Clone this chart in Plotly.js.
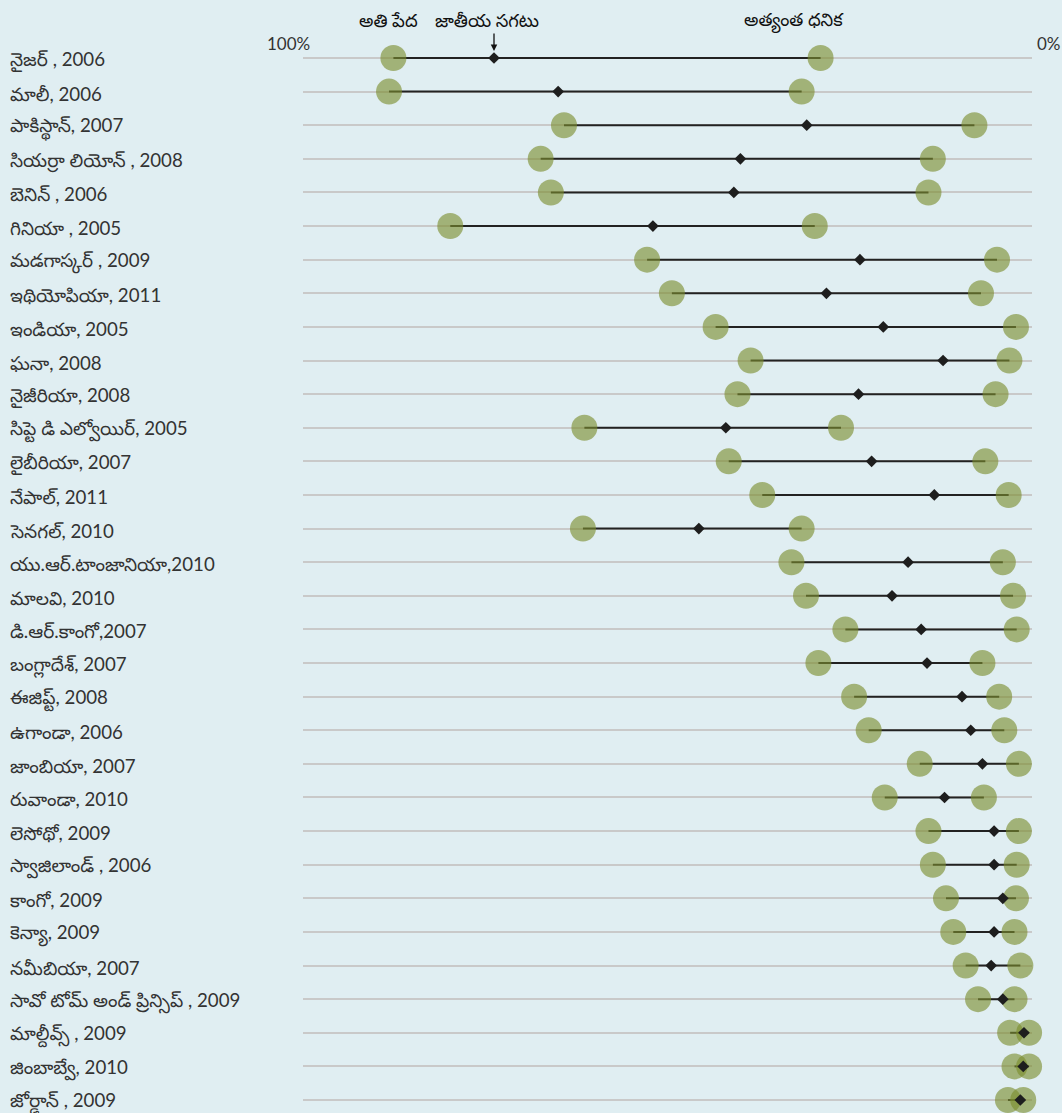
<!DOCTYPE html>
<html>
<head>
<meta charset="utf-8">
<script src="https://cdn.plot.ly/plotly-3.0.1.min.js"></script>
<style>
  html, body { margin: 0; padding: 0; background: #e0eef2; }
  #chart { width: 1062px; height: 1113px; }
</style>
</head>
<body>
<div id="chart"></div>
<script>
const countries = [
  "నైజర్ , 2006", "మాలీ, 2006", "పాకిస్థాన్, 2007", "సియర్రా లియోన్ , 2008",
  "బెనిన్ , 2006", "గినియా , 2005", "మడగాస్కర్ , 2009", "ఇథియోపియా, 2011",
  "ఇండియా, 2005", "ఘనా, 2008", "నైజీరియా, 2008", "సిప్టె డి ఎల్వోయిర్, 2005",
  "లైబీరియా, 2007", "నేపాల్, 2011", "సెనగల్, 2010", "యు.ఆర్.టాంజానియా,2010",
  "మాలవి, 2010", "డి.ఆర్.కాంగో,2007", "బంగ్లాదేశ్, 2007", "ఈజిప్ట్, 2008",
  "ఉగాండా, 2006", "జాంబియా, 2007", "రువాండా, 2010", "లెసోథో, 2009",
  "స్వాజిలాండ్ , 2006", "కాంగో, 2009", "కెన్యా, 2009", "నమీబియా, 2007",
  "సావో టోమ్ అండ్ ప్రిన్సిప్ , 2009", "మాల్దీవ్స్ , 2009", "జింబాబ్వే, 2010", "జోర్డాన్ , 2009"
];
const poorest = [87.6, 88.2, 64.2, 67.4, 66.0, 79.8, 52.8, 49.4, 43.4, 38.6, 40.4, 61.4,
  41.6, 37.0, 61.6, 33.0, 31.0, 25.6, 29.3, 24.4, 22.4, 15.4, 20.2, 14.2,
  13.6, 11.8, 10.8, 9.1, 7.4, 3.0, 2.4, 3.3];
const national = [73.8, 65.0, 30.9, 40.0, 40.9, 52.0, 23.6, 28.2, 20.4, 12.2, 23.8, 42.0,
  22.0, 13.4, 45.7, 17.0, 19.2, 15.2, 14.4, 9.6, 8.4, 6.8, 12.0, 5.2,
  5.2, 4.0, 5.2, 5.6, 4.0, 1.1, 1.2, 1.6];
const richest = [29.0, 31.6, 7.9, 13.6, 14.2, 29.8, 4.8, 7.0, 2.2, 3.1, 5.0, 26.2,
  6.4, 3.2, 31.6, 4.0, 2.6, 2.1, 6.8, 4.5, 3.8, 1.8, 6.6, 1.8,
  2.1, 2.2, 2.4, 1.6, 2.4, 0.4, 0.4, 1.2];
const headerPoorest = "అతి పేద";
const headerNational = "జాతీయ సగటు";
const headerRichest = "అత్యంత ధనిక";
const axisLabels = ["100%", "0%"];

const rows = countries.map((_, i) => i);
const fontFam = "Lato, 'Noto Sans', 'Noto Sans Telugu', sans-serif";

const lineX = [], lineY = [];
rows.forEach(i => { lineX.push(poorest[i], richest[i], null); lineY.push(i, i, null); });

const traces = [
  { type: 'scatter', mode: 'lines', x: lineX, y: lineY, line: { color: '#222222', width: 2 },
    hoverinfo: 'skip', showlegend: false, cliponaxis: false },
  { type: 'scatter', mode: 'markers', x: poorest, y: rows,
    marker: { size: 26, color: 'rgba(122,141,45,0.62)', line: { width: 0 } },
    showlegend: false, cliponaxis: false },
  { type: 'scatter', mode: 'markers', x: richest, y: rows,
    marker: { size: 26, color: 'rgba(122,141,45,0.62)', line: { width: 0 } },
    showlegend: false, cliponaxis: false },
  { type: 'scatter', mode: 'markers', x: national, y: rows,
    marker: { symbol: 'diamond', size: 9, color: '#1e1e1e', line: { width: 0 } },
    showlegend: false, cliponaxis: false }
];

const annotations = countries.map((c, i) => ({
  xref: 'paper', yref: 'y', x: -0.4047, y: i, xanchor: 'left', yanchor: 'middle', yshift: -2,
  text: c, showarrow: false, font: { family: fontFam, size: 18.7, color: '#333333' }
}));
annotations.push(
  { xref: 'x', yref: 'paper', x: 100, y: 0.9963, xshift: -15, text: axisLabels[0], showarrow: false,
    xanchor: 'center', yanchor: 'middle', font: { family: fontFam, size: 17, color: '#333333' } },
  { xref: 'x', yref: 'paper', x: 0, y: 0.9963, xshift: 17, text: axisLabels[1], showarrow: false,
    xanchor: 'center', yanchor: 'middle', font: { family: fontFam, size: 17, color: '#333333' } },
  { xref: 'x', yref: 'paper', x: poorest[0], y: 1.0186, xshift: -5, text: headerPoorest, showarrow: false,
    xanchor: 'center', yanchor: 'middle', font: { family: fontFam, size: 18, color: '#111111' } },
  { xref: 'x', yref: 'paper', x: national[0], y: 1.0186, xshift: -7, text: headerNational, showarrow: false,
    xanchor: 'center', yanchor: 'middle', font: { family: fontFam, size: 18, color: '#111111' } },
  { xref: 'x', yref: 'paper', x: richest[0], y: 1.0186, xshift: -27, text: headerRichest, showarrow: false,
    xanchor: 'center', yanchor: 'middle', font: { family: fontFam, size: 18, color: '#111111' } },
  { xref: 'x', yref: 'y', x: national[0], y: 0, text: '', showarrow: true, ax: 0, ay: -26,
    arrowhead: 2, arrowsize: 1, arrowwidth: 1.3, arrowcolor: '#111111', standoff: 7 }
);

const layout = {
  width: 1062, height: 1113,
  paper_bgcolor: '#e0eef2', plot_bgcolor: '#e0eef2',
  margin: { l: 303, r: 30, t: 40, b: 0 },
  xaxis: { range: [100, 0], showgrid: false, zeroline: false, showticklabels: false, ticks: '', showline: false, fixedrange: true },
  yaxis: { range: [31.387, -0.5355], tickvals: rows, showticklabels: false, ticks: '',
    showgrid: true, gridcolor: '#c9c9c9', gridwidth: 2, zeroline: false, showline: false, fixedrange: true },
  annotations: annotations,
  showlegend: false,
  hovermode: 'closest'
};

Plotly.newPlot('chart', traces, layout, { displayModeBar: false, staticPlot: true });
</script>
</body>
</html>
